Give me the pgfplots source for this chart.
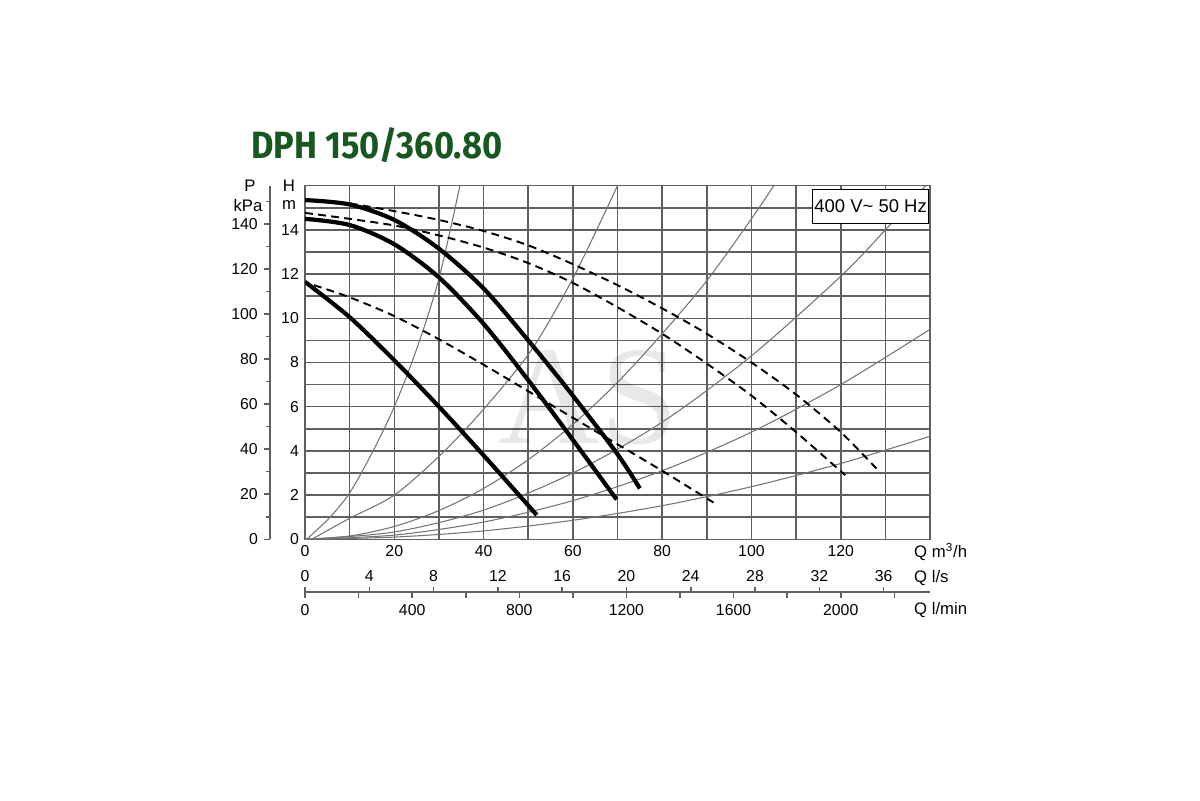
\documentclass[border=0pt]{standalone}
\usepackage{fontspec}
\setmainfont{Liberation Sans}
\newfontfamily\titlefont{Fira Sans}
\newfontfamily\wmfont{Liberation Serif}
\usepackage{graphicx}
\usepackage{pgfplots}
\pgfplotsset{compat=1.18}
\definecolor{dphgreen}{RGB}{22,88,32}
\definecolor{gridc}{RGB}{95,95,95}
\definecolor{syscurve}{RGB}{115,115,115}
\begin{document}
\begin{tikzpicture}[x=1cm,y=1cm]
\path[use as bounding box] (0,0) rectangle (24,16);
\fill[white] (0,0) rectangle (24,16);

% main chart: H [m] over Q [m3/h]
\begin{axis}[
  at={(6.1cm,5.214cm)}, anchor=south west, scale only axis,
  width=12.5cm, height=7.072cm,
  xmin=0, xmax=140, ymin=0, ymax=16,
  xtick={0,20,...,120}, minor xtick={10,30,...,130},
  ytick={0,2,...,14}, minor ytick={1,3,...,15},
  grid=both,
  major grid style={gridc, line width=0.9pt},
  minor grid style={gridc, line width=0.9pt},
  major tick length=0pt, minor tick length=0pt,
  axis line style={gridc, line width=0.9pt},
  ticklabel style={font=\fontsize{9}{10}\selectfont},
  /pgf/number format/assume math mode=true,
  clip=true,
]
\node[text=black, text opacity=0.09, font=\wmfont\fontsize{80}{80}\selectfont] at (axis cs:63.5,6.4) {AS};

% system curves
\addplot[syscurve, line width=0.6pt, smooth] coordinates {(0.4,0) (5.6,1.0) (10,2.1) (15,3.9) (20,6.0) (25,8.6) (30,11.8) (34.7,16)};
\addplot[syscurve, line width=0.6pt, smooth] coordinates {(1.5,0) (10,0.95) (20,2.0) (30,3.75) (39.2,5.7) (50.5,8.5) (60,11.8) (70,16)};
\addplot[syscurve, line width=0.6pt, smooth] coordinates {(0,0) (10,0.15) (20,0.58) (30,1.3) (40,2.3) (50,3.6) (60,5.2) (70,7.1) (80,9.3) (90,11.7) (100,14.5) (105,16)};
\addplot[syscurve, line width=0.6pt, smooth] coordinates {(0,0) (20,0.33) (40,1.32) (60,3.0) (80,5.3) (100,8.3) (120,11.9) (130,14.0) (139,16)};
\addplot[syscurve, line width=0.6pt, smooth] coordinates {(0,0) (20,0.19) (40,0.78) (60,1.75) (80,3.1) (100,4.85) (120,7.0) (140,9.5)};
\addplot[syscurve, line width=0.6pt, smooth] coordinates {(0,0) (20,0.1) (40,0.38) (60,0.86) (80,1.52) (100,2.38) (120,3.43) (140,4.66)};

% dashed curves
\addplot[black, line width=1.1pt, dash pattern=on 4.5pt off 3pt, smooth] coordinates {(10,15.2) (20,14.85) (30,14.45) (40,13.95) (50,13.3) (60,12.45) (70,11.5) (80,10.45) (90,9.3) (100,8.0) (110,6.55) (120,4.85) (128,3.2)};
\addplot[black, line width=1.1pt, dash pattern=on 4.5pt off 3pt, smooth] coordinates {(0,14.77) (10,14.5) (20,14.2) (30,13.75) (40,13.2) (50,12.5) (60,11.6) (70,10.5) (80,9.3) (90,7.95) (100,6.5) (110,4.85) (121,2.9)};
\addplot[black, line width=1.1pt, dash pattern=on 4.5pt off 3pt, smooth] coordinates {(2,11.5) (10,10.95) (20,10.1) (30,9.05) (40,7.9) (50,6.7) (60,5.5) (70,4.3) (80,3.1) (90,1.85) (92,1.6)};

% pump curves
\addplot[black, line width=2.4pt, smooth] coordinates {(0,15.35) (10,15.15) (20,14.45) (30,13.15) (40,11.35) (50,9.0) (60,6.5) (70,3.85) (75,2.3)};
\addplot[black, line width=2.4pt, smooth] coordinates {(0,14.5) (10,14.22) (20,13.35) (30,11.85) (40,9.75) (50,7.2) (60,4.5) (69.8,1.8)};
\addplot[black, line width=2.4pt, smooth] coordinates {(0,11.65) (10,10.05) (20,8.1) (30,6.0) (40,3.8) (51.9,1.1)};

\node[draw=black, fill=white, line width=0.6pt, minimum width=2.16cm, minimum height=0.67cm, inner sep=1pt, font=\fontsize{10.5}{12}\selectfont] at (axis cs:126.7,15.06) {400 V\textasciitilde{} 50 Hz};
\end{axis}

% pressure scale
\begin{axis}[
  at={(5.4cm,5.214cm)}, anchor=south west, scale only axis,
  width=1cm, height=7.072cm,
  xmin=0, xmax=1, ymin=0, ymax=156.96,
  hide x axis, axis y line*=left,
  ytick={0,20,...,140}, minor ytick={10,30,...,150},
  tick align=outside, major tick length=0.12cm, minor tick length=0.08cm,
  axis line style={gridc, line width=0.9pt},
  tick style={gridc, line width=0.9pt},
  ticklabel style={font=\fontsize{9}{10}\selectfont},
  /pgf/number format/assume math mode=true,
]
\addplot[draw=none] coordinates {(0,0) (1,1)};
\end{axis}

% Q l/s scale
\begin{axis}[
  at={(6.1cm,4.16cm)}, anchor=north west, scale only axis,
  width=12.5cm, height=1cm,
  xmin=0, xmax=38.889, ymin=0, ymax=1,
  axis x line*=top, hide y axis,
  xtick={0,4,...,36},
  tick align=outside, major tick length=0.09cm,
  axis line style={gridc, line width=0.9pt},
  tick style={gridc, line width=0.9pt},
  ticklabel style={font=\fontsize{9}{10}\selectfont},
  /pgf/number format/assume math mode=true,
]
\addplot[draw=none] coordinates {(0,0) (1,1)};
\end{axis}

% Q l/min scale
\begin{axis}[
  at={(6.1cm,4.16cm)}, anchor=south west, scale only axis,
  width=12.5cm, height=1cm,
  xmin=0, xmax=2333.33, ymin=0, ymax=1,
  axis x line*=bottom, hide y axis,
  xtick={0,400,...,2000}, minor xtick={200,600,...,2200},
  tick align=outside, major tick length=0.12cm, minor tick length=0.12cm,
  axis line style={gridc, line width=0.9pt},
  tick style={gridc, line width=0.9pt},
  ticklabel style={font=\fontsize{9}{10}\selectfont},
  /pgf/number format/assume math mode=true,
  /pgf/number format/1000 sep={},
]
\addplot[draw=none] coordinates {(0,0) (1,1)};
\end{axis}

% labels
\node[anchor=west, text=dphgreen] at (4.9,13.1) {\resizebox{5.02cm}{0.62cm}{\titlefont\bfseries DPH 150/360.80}};
\node[font=\fontsize{9.5}{10}\selectfont] at (5.0,12.28) {P};
\node[font=\fontsize{9.5}{10}\selectfont] at (4.96,11.88) {kPa};
\node[font=\fontsize{9.5}{10}\selectfont] at (5.78,12.28) {H};
\node[font=\fontsize{9.5}{10}\selectfont] at (5.78,11.9) {m};
\node[anchor=west, font=\fontsize{9.5}{10}\selectfont] at (18.16,4.96) {Q m\textsuperscript{3}/h};
\node[anchor=west, font=\fontsize{9.5}{10}\selectfont] at (18.16,4.44) {Q l/s};
\node[anchor=west, font=\fontsize{9.5}{10}\selectfont] at (18.16,3.8) {Q l/min};
\end{tikzpicture}
\end{document}
